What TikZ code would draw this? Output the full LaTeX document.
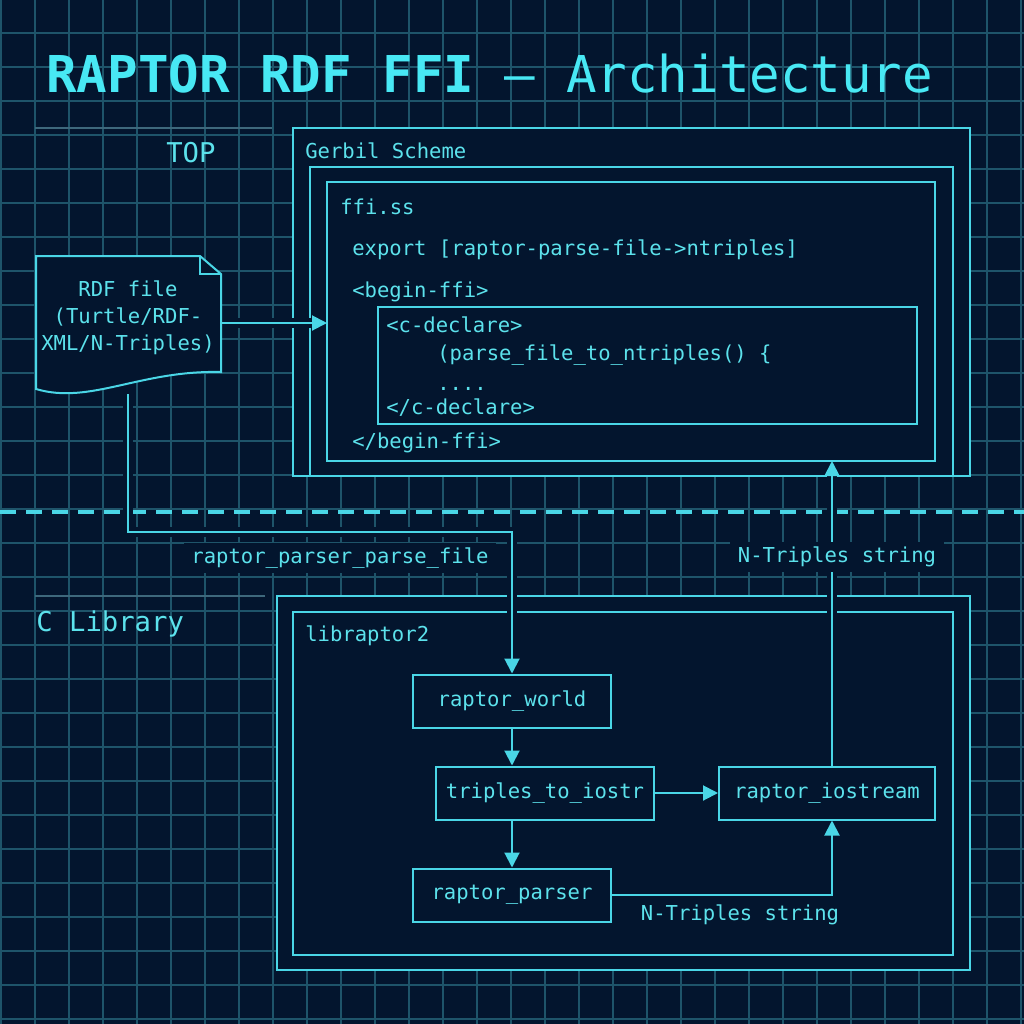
\documentclass[tikz,border=0pt]{standalone}
\usepackage{fontspec}
\usepackage{xcolor}
\usepackage{tikz}
\usetikzlibrary{positioning,calc,arrows.meta}
\newfontfamily\codefont{DejaVu Sans Mono}
\definecolor{bgnavy}{RGB}{3,21,46}
\definecolor{gridteal}{RGB}{30,84,106}
\definecolor{rulegrey}{RGB}{62,104,124}
\definecolor{wirecyan}{RGB}{74,214,230}
\definecolor{textcyan}{RGB}{92,226,236}
\definecolor{titlecyan}{RGB}{72,232,244}
\tikzset{
    gridline/.style={draw=gridteal, line width=0.25mm},
    frame/.style={draw=wirecyan, line width=0.4mm, fill=bgnavy},
    code/.style={text=textcyan, font=\codefont\fontsize{11.7}{15.4}\selectfont, inner sep=0pt, anchor=base west},
    section/.style={text=textcyan, font=\codefont\fontsize{15.5}{18}\selectfont, inner sep=0pt, anchor=base west},
    funcbox/.style={draw=wirecyan, line width=0.4mm, text=textcyan, font=\codefont\fontsize{11.7}{15.4}\selectfont,
        minimum width=39.6mm, minimum height=10.6mm, inner sep=0pt},
    flow/.style={draw=wirecyan, line width=0.4mm, -{Triangle[length=3mm,width=3mm]}},
    halo/.style={draw=bgnavy, line width=2mm, shorten >=2mm, shorten <=2mm},
    tag/.style={text=textcyan, font=\codefont\fontsize{11.7}{15.4}\selectfont, fill=bgnavy, inner xsep=1.5mm, inner ysep=1mm}
}
\begin{document}
\begin{tikzpicture}[x=0.2mm, y=-0.2mm]
    \useasboundingbox (0,0) rectangle (1024,1024);
    \fill[bgnavy] (0,0) rectangle (1024,1024);

    % Grid
    \foreach \gx in {1,35,...,1024} {
        \draw[gridline] (\gx,0) -- (\gx,1024);
    }
    \foreach \gy in {33,67,...,1024} {
        \draw[gridline] (0,\gy) -- (1024,\gy);
    }

    % Title and section rules
    \node[anchor=base west, inner sep=0pt, text=titlecyan, font=\codefont\fontsize{28.9}{32}\selectfont] (title) at (46,92)
        {\textbf{RAPTOR RDF FFI} — Architecture};
    \draw[rulegrey, line width=0.4mm] (35,128) -- (272,128);
    \draw[rulegrey, line width=0.4mm] (35,596) -- (265,596);
    \node[section] (toplbl) at (166,162) {TOP};
    \node[section] (clib) at (36,631) {C Library};

    % Separator
    \draw[wirecyan, line width=0.8mm, dash pattern=on 3.2mm off 2mm] (0,512) -- (1024,512);

    % Gerbil Scheme side
    \draw[frame] (293,128) rectangle (970,476);
    \draw[frame] (310,167) rectangle (953,476);
    \draw[frame] (327,182) rectangle (935,461);
    \draw[frame] (378,307) rectangle (917,424);
    \node[code] (gerbil) at (305,158) {Gerbil Scheme};
    \node[code] (ffiss) at (340,214) {ffi.ss};
    \node[code] (export) at (352,255) {export [raptor-parse-file->ntriples]};
    \node[code] (beginffi) at (352,297) {<begin-ffi>};
    \node[code] (cdecl) at (386,332) {<c-declare>};
    \node[code] (parsefn) at (437,360) {(parse\_file\_to\_ntriples() \{};
    \node[code] (dots) at (437,390) {....};
    \node[code] (cdeclend) at (386,414) {</c-declare>};
    \node[code] (beginend) at (352,448) {</begin-ffi>};
    \coordinate (ffiin) at (327,323);
    \coordinate (ffibot) at (832,461);

    % RDF input file
    \draw[frame] (36,256) -- (200,256) -- (221,274) -- (221,372)
        .. controls (140,370) and (90,405) .. (36,389) -- cycle;
    \draw[wirecyan, line width=0.4mm] (200,256) -- (200,274) -- (221,274);
    \node[text=textcyan, font=\codefont\fontsize{11.7}{15.4}\selectfont, align=center, inner sep=0pt] (rdf) at (128,318)
        {RDF file\\(Turtle/RDF-\\XML/N-Triples)};
    \coordinate (rdfeast) at (221,323);
    \coordinate (rdfsouth) at (128,394);
    \coordinate (elbow) at (128,532);

    % C library side
    \draw[frame] (277,596) rectangle (970,970);
    \draw[frame] (293,612) rectangle (953,955);
    \node[code] (libraptor) at (305,641) {libraptor2};

    \node[funcbox] (world) at (512,701) {raptor\_world};
    \node[funcbox, minimum width=43.6mm] (triples) at (545,793) {triples\_to\_iostr};
    \node[funcbox, minimum width=43.2mm] (iostream) at (827,793) {raptor\_iostream};
    \node[funcbox] (parser) at (512,895) {raptor\_parser};

    % Gaps where wires cross frames
    \path[halo] (rdfeast) -- (ffiin);
    \path[halo] (rdfsouth) -- (elbow) -| (world.north);
    \path[halo] (iostream.north -| ffibot) -- (ffibot);

    % Wires
    \draw[flow] (rdfeast) -- (ffiin);
    \draw[flow] (rdfsouth) -- (elbow) -| (world.north);
    \draw[flow] (iostream.north -| ffibot) -- (ffibot);
    \draw[flow] (world.south) -- (world.south |- triples.north);
    \draw[flow] (world.south |- triples.south) -- (parser.north);
    \draw[flow] (triples.east) -- (iostream.west);
    \draw[flow] (parser.east) -| (ffibot |- iostream.south);

    % Wire labels
    \node[tag] (parsecall) at (340,558) {raptor\_parser\_parse\_file};
    \node[tag] (ntup) at (837,557) {N-Triples string};
    \node[tag, fill=none] (ntdown) at (740,915) {N-Triples string};
\end{tikzpicture}
\end{document}
